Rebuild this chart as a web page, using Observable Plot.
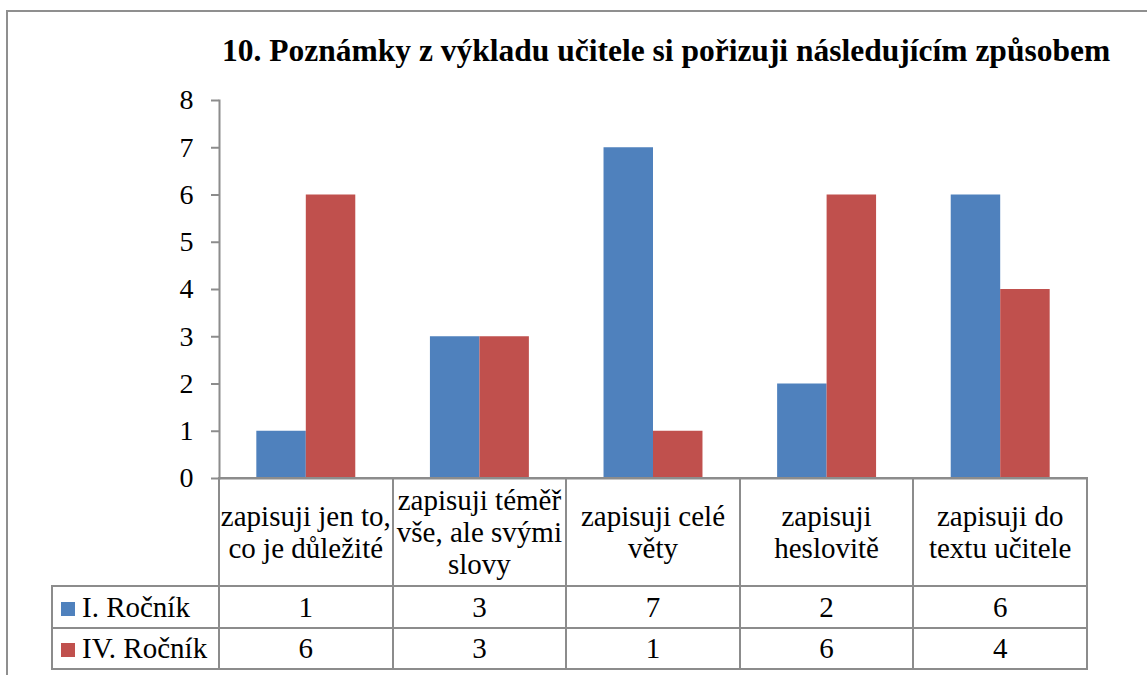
<!DOCTYPE html>
<html>
<head>
<meta charset="utf-8">
<script src="https://cdn.jsdelivr.net/npm/d3@7"></script>
<script src="https://cdn.jsdelivr.net/npm/@observablehq/plot@0.6"></script>
<style>
  html, body { margin: 0; padding: 0; background: #fff; overflow: hidden; }
  body { width: 1147px; height: 675px; position: relative; font-family: "Liberation Serif", "Times New Roman", serif; }
  #frame { position: absolute; left: 6px; top: 10px; width: 1200px; height: 700px; border: 2px solid #8f8f8f; box-sizing: border-box; }
  #title { position: absolute; left: 222px; top: 35.5px; font-size: 31.5px; line-height: 30px; font-weight: bold; color: #000; white-space: nowrap; font-family: "Liberation Serif", serif; }
  #chart { position: absolute; left: 0; top: 0; }
  #table { position: absolute; border-collapse: collapse; table-layout: fixed; font-size: 29px; color: #000; font-family: "Liberation Serif", serif; }
  #table td { border: 2px solid #8c8c8c; text-align: center; vertical-align: middle; padding: 0; white-space: pre; line-height: 32px; }
  #table td.blank { border-top: none; border-left: none; border-bottom: 2px solid #8c8c8c; }
  #table td.legend { text-align: left; padding-left: 8px; }
  .key { display: inline-block; width: 14px; height: 14px; margin-right: 7px; vertical-align: 1px; }
</style>
</head>
<body>
<div id="frame"></div>
<div id="chart"></div>
<div id="title"></div>
<table id="table"></table>
<script>
// ---- data ----
const title = "10. Poznámky z výkladu učitele si pořizuji následujícím způsobem";
const categories = [
  "zapisuji jen to, co je důležité",
  "zapisuji téměř vše, ale svými slovy",
  "zapisuji celé věty",
  "zapisuji heslovitě",
  "zapisuji do textu učitele"
];
const categoryLabels = [
  "zapisuji jen to,\nco je důležité",
  "zapisuji téměř\nvše, ale svými\nslovy",
  "zapisuji celé\nvěty",
  "zapisuji\nheslovitě",
  "zapisuji do\ntextu učitele"
];
const seriesNames = ["I. Ročník", "IV. Ročník"];
const valuesI = [1, 3, 7, 2, 6];
const valuesIV = [6, 3, 1, 6, 4];
const seriesColors = ["#4F81BD", "#C0504D"];
const yTicks = [0, 1, 2, 3, 4, 5, 6, 7, 8];

// ---- layout ----
const width = 1147, height = 500;
const marginLeft = 219, marginRight = 60, marginTop = 100, marginBottom = 22;
const padInner = 0.43;
const xOpts = {type: "band", domain: categories, paddingInner: padInner, paddingOuter: padInner / 2, round: false};
const xs = Plot.scale({x: {...xOpts, range: [marginLeft, width - marginRight]}});
const half = xs.bandwidth / 2;

const rowsI = categories.map((c, i) => ({category: c, series: seriesNames[0], value: valuesI[i]}));
const rowsIV = categories.map((c, i) => ({category: c, series: seriesNames[1], value: valuesIV[i]}));

document.getElementById("title").textContent = title;

const plot = Plot.plot({
  width, height, marginLeft, marginRight, marginTop, marginBottom,
  style: {background: "none", fontFamily: "Liberation Serif, Times New Roman, serif"},
  x: {...xOpts, axis: null},
  y: {domain: [0, 8], axis: null},
  marks: [
    Plot.barY(rowsI, {x: "category", y: "value", fill: seriesColors[0], insetLeft: 0, insetRight: half}),
    Plot.barY(rowsIV, {x: "category", y: "value", fill: seriesColors[1], insetLeft: half, insetRight: 0}),
    Plot.frame({anchor: "left", stroke: "#8c8c8c", strokeWidth: 2}),
    Plot.ruleY([0], {stroke: "#8c8c8c", strokeWidth: 2}),
    Plot.axisY({ticks: yTicks, tickSize: 8, tickPadding: 18, fontSize: 28, stroke: "#8c8c8c", strokeWidth: 2, fill: "#000", label: null, tickFormat: d => String(d)})
  ]
});
document.getElementById("chart").appendChild(plot);

// ---- data table aligned with the x scale ----
const sx = plot.scale("x");
const step = sx.step;
const firstLeft = sx.apply(categories[0]) - (step - sx.bandwidth) / 2;
const legendLeft = 52;
const table = document.getElementById("table");
table.style.left = (legendLeft - 1) + "px";
table.style.top = (height - marginBottom - 1) + "px";
table.style.width = (firstLeft - legendLeft + step * categories.length) + "px";

const colgroup = document.createElement("colgroup");
const c0 = document.createElement("col");
c0.style.width = (firstLeft - legendLeft) + "px";
colgroup.appendChild(c0);
categories.forEach(() => { const c = document.createElement("col"); c.style.width = step + "px"; colgroup.appendChild(c); });
table.appendChild(colgroup);

const head = document.createElement("tr");
head.style.height = "108px";
const blank = document.createElement("td"); blank.className = "blank"; head.appendChild(blank);
categoryLabels.forEach(l => { const td = document.createElement("td"); td.textContent = l; head.appendChild(td); });
table.appendChild(head);

[valuesI, valuesIV].forEach((vals, s) => {
  const tr = document.createElement("tr");
  tr.style.height = "41.5px";
  const lg = document.createElement("td"); lg.className = "legend";
  const key = document.createElement("span"); key.className = "key"; key.style.background = seriesColors[s];
  lg.appendChild(key); lg.appendChild(document.createTextNode(seriesNames[s]));
  tr.appendChild(lg);
  vals.forEach(v => { const td = document.createElement("td"); td.textContent = v; tr.appendChild(td); });
  table.appendChild(tr);
});
</script>
</body>
</html>
